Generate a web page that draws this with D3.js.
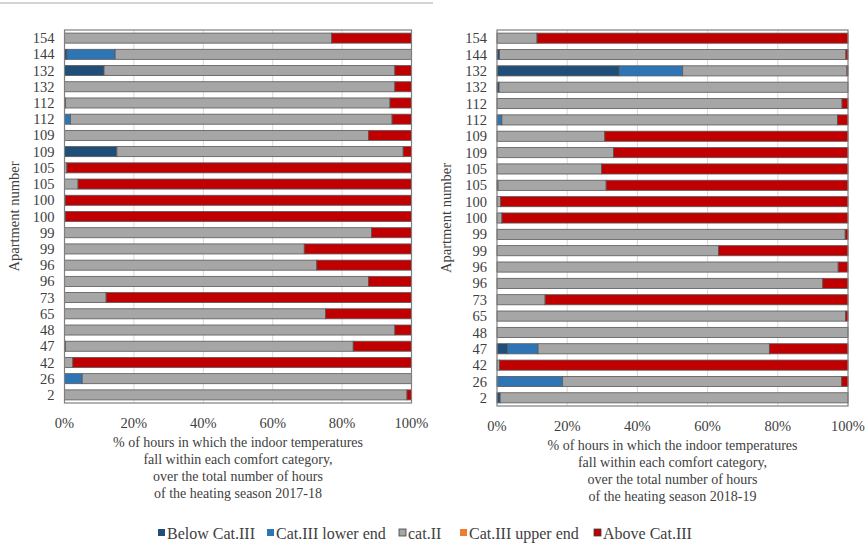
<!DOCTYPE html>
<html>
<head>
<meta charset="utf-8">
<script src="https://cdn.jsdelivr.net/npm/d3@7"></script>
<style>
  body { margin: 0; background: #fff; }
  text { font-family: "Liberation Serif", "Times New Roman", serif; fill: #404040; }
</style>
</head>
<body>
<svg id="chart" width="867" height="546"></svg>
<script>
// apartment labels, top to bottom
const apartments = ["154","144","132","132","112","112","109","109","105","105","100","100",
                    "99","99","96","96","73","65","48","47","42","26","2"]

const seriesKeys = ["below", "lower", "catII", "upper", "above"]
const seriesNames = ["Below Cat.III", "Cat.III lower end", "cat.II", "Cat.III upper end", "Above Cat.III"]
const seriesColors = ["#1f4e79", "#2e75b6", "#a6a6a6", "#ed7d31", "#c00000"]

// season 2017-18 (% of hours)
const below1718 = [0,0.7,11.4,0,0.3,0,0,15.1,0,0,0.2,0.2,0,0,0,0,0,0,0,0.3,0,0,0]
const lower1718 = [0,13.9,0,0,0,1.7,0,0,0,0,0,0,0,0,0,0,0,0,0,0,0,5.1,0]
const catII1718 = [77,85.4,83.8,95.2,93.5,92.7,87.6,82.5,0.7,3.9,0,0,88.5,69.1,72.7,87.6,12,75.2,95.2,82.9,2.4,94.9,98.7]
const upper1718 = [0,0,0,0,0,0,0,0,0,0,0,0,0,0,0,0,0,0,0,0,0,0,0]
const above1718 = [23,0,4.8,4.8,6.2,5.6,12.4,2.4,99.3,96.1,99.8,99.8,11.5,30.9,27.3,12.4,88,24.8,4.8,16.8,97.6,0,1.3]

// season 2018-19 (% of hours)
const below1819 = [0,0.7,34.8,0.6,0,0,0,0,0,0.3,0,0,0,0,0,0,0,0,0,3.0,0,0,0.9]
const lower1819 = [0,0,18.1,0,0,1.4,0,0,0,0,0,0,0,0,0,0,0,0,0,8.7,0,18.7,0]
const catII1819 = [11.4,98.7,46.8,99.4,98.3,95.6,30.7,33.2,29.8,30.8,1.0,1.4,99.2,63.1,97.2,92.8,13.7,99.3,100,65.9,0.7,79.5,99.1]
const upper1819 = [0,0,0,0,0,0,0,0,0,0,0,0,0,0,0,0,0,0,0,0,0,0,0]
const above1819 = [88.6,0.6,0.3,0,1.7,3.0,69.3,66.8,70.2,68.9,99,98.6,0.8,36.9,2.8,7.2,86.3,0.7,0,22.4,99.3,1.8,0]

const xTicks = [0, 20, 40, 60, 80, 100]

const svg = d3.select("#chart")

// thin rule at the top
svg.append("line")
    .attr("x1", 0).attr("x2", 433)
    .attr("y1", 3).attr("y2", 3)
    .attr("stroke", "#d4d4d4")
    .attr("stroke-width", 2)

function buildRows(below, lower, catII, upper, above) {
    return apartments.map((a, i) => ({
        idx: i, label: a,
        below: below[i], lower: lower[i], catII: catII[i], upper: upper[i], above: above[i]
    }))
}

function drawPanel(rows, opts) {
    const g = svg.append("g")

    const x = d3.scaleLinear().domain([0, 100]).range([opts.left, opts.right])
    const y = d3.scaleBand()
        .domain(d3.range(apartments.length))
        .range([opts.top, opts.bottom])
        .paddingInner(0.38)
        .paddingOuter(0.19)

    // gridlines
    g.selectAll(".grid")
        .data(xTicks.slice(1, -1))
        .join("line")
        .attr("x1", d => x(d)).attr("x2", d => x(d))
        .attr("y1", opts.top).attr("y2", opts.bottom)
        .attr("stroke", "#d9d9d9")

    const stacked = d3.stack().keys(seriesKeys)(rows)

    g.selectAll(".series")
        .data(stacked)
        .join("g")
        .attr("fill", (d, i) => seriesColors[i])
        .selectAll("rect")
        .data(d => d.filter(p => p[1] - p[0] > 0))
        .join("rect")
        .attr("x", d => x(d[0]))
        .attr("width", d => x(d[1]) - x(d[0]))
        .attr("y", d => y(d.data.idx))
        .attr("height", y.bandwidth())
        .attr("stroke", "#595959")
        .attr("stroke-width", 0.8)

    // frame
    g.append("rect")
        .attr("x", opts.left).attr("y", opts.top)
        .attr("width", opts.right - opts.left)
        .attr("height", opts.bottom - opts.top)
        .attr("fill", "none")
        .attr("stroke", "#7f7f7f")
        .attr("stroke-width", 1.2)

    // y labels
    g.selectAll(".ylab")
        .data(rows)
        .join("text")
        .attr("x", opts.left - 10)
        .attr("y", d => y(d.idx) + y.bandwidth() / 2)
        .attr("dy", "0.35em")
        .attr("text-anchor", "end")
        .attr("font-size", "14.5px")
        .text(d => d.label)

    // x tick labels
    g.selectAll(".xlab")
        .data(xTicks)
        .join("text")
        .attr("x", d => x(d))
        .attr("y", opts.bottom + 20)
        .attr("dy", "0.35em")
        .attr("text-anchor", "middle")
        .attr("font-size", "14.5px")
        .text(d => d + "%")

    // axis title
    const cx = (opts.left + opts.right) / 2
    const title = g.append("text")
        .attr("text-anchor", "middle")
        .attr("font-size", "14px")
    opts.titleLines.forEach((t, i) => {
        title.append("tspan")
            .attr("x", cx)
            .attr("y", opts.bottom + 44 + i * 17)
            .text(t)
    })

    g.append("text")
        .attr("transform", `translate(${opts.left - 46},${(opts.top + opts.bottom) / 2}) rotate(-90)`)
        .attr("text-anchor", "middle")
        .attr("font-size", "14.5px")
        .text("Apartment number")
}

drawPanel(buildRows(below1718, lower1718, catII1718, upper1718, above1718), {
    left: 64.5, right: 411.5, top: 30, bottom: 403,
    titleLines: ["% of hours in which the indoor temperatures",
                 "fall within each comfort category,",
                 "over the total number of hours",
                 "of the heating season 2017-18"]
})

drawPanel(buildRows(below1819, lower1819, catII1819, upper1819, above1819), {
    left: 497, right: 848, top: 30, bottom: 406,
    titleLines: ["% of hours in which the indoor temperatures",
                 "fall within each comfort category,",
                 "over the total number of hours",
                 "of the heating season 2018-19"]
})

// legend
const legendX = [158, 267, 399, 460, 594]
const legend = svg.append("g")
    .selectAll("g")
    .data(seriesNames)
    .join("g")
    .attr("transform", (d, i) => `translate(${legendX[i]},533)`)

legend.append("rect")
    .attr("x", 0).attr("y", -4)
    .attr("width", 7).attr("height", 7)
    .attr("fill", (d, i) => seriesColors[i])
    .attr("stroke", (d, i) => (i === 2 || i === 4) ? "#404040" : "none")
    .attr("stroke-width", 0.8)

legend.append("text")
    .attr("x", 9)
    .attr("dy", "0.35em")
    .attr("font-size", "16px")
    .text(d => d)
</script>
</body>
</html>
